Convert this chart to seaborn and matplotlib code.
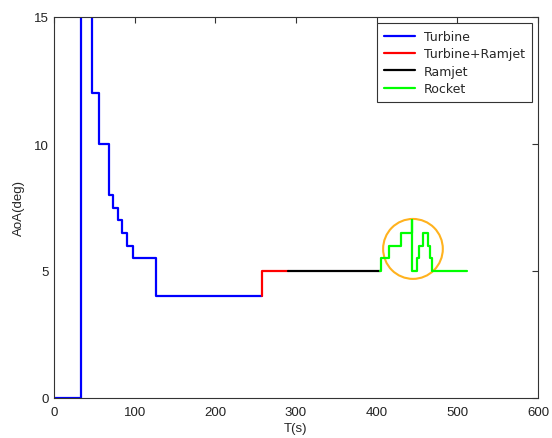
import matplotlib
matplotlib.use("Agg")
import matplotlib.pyplot as plt
from matplotlib.patches import Ellipse
import numpy as np
import pandas as pd
import seaborn as sns

# Step breakpoints (time in s) and AoA values (deg)
turbine_t = [0, 33, 47, 56, 68.5, 73.5, 79.5, 84.5, 90.5, 98, 126, 257.5]
turbine_aoa = [0, 20, 12, 10, 8, 7.5, 7, 6.5, 6, 5.5, 4, 4]

ramjet_mix_t = [257.5, 257.5, 290]
ramjet_mix_aoa = [4, 5, 5]

ramjet_t = [290, 404]
ramjet_aoa = [5, 5]

rocket_t = [404, 405, 415, 430, 444, 444.4, 449.5, 452.7, 457.6, 463.8, 466, 469, 512]
rocket_aoa = [5, 5.5, 6, 6.5, 7, 5, 5.5, 6, 6.5, 6, 5.5, 5, 5]

phases = ["Turbine", "Turbine+Ramjet", "Ramjet", "Rocket"]
colors = ["#0000ff", "#ff0000", "#000000", "#00ff00"]

# highlighted region
circle_t, circle_aoa = 445, 5.87
circle_w, circle_h = 74, 2.36

frames = []
for name, t, a in zip(phases,
                      [turbine_t, ramjet_mix_t, ramjet_t, rocket_t],
                      [turbine_aoa, ramjet_mix_aoa, ramjet_aoa, rocket_aoa]):
    frames.append(pd.DataFrame({"T": t, "AoA": a, "phase": name}))
df = pd.concat(frames, ignore_index=True)

sns.set_style("white")
plt.rcParams["font.family"] = ["Liberation Sans", "DejaVu Sans"]

fig = plt.figure(figsize=(5.52, 4.39), dpi=100)
ax = fig.add_axes([54 / 552, 1 - 399 / 439, 484 / 552, 381 / 439])

for name, c in zip(phases, colors):
    sub = df[df["phase"] == name]
    sns.lineplot(data=sub, x="T", y="AoA", ax=ax, color=c, label=name,
                 drawstyle="steps-post", sort=False, estimator=None,
                 linewidth=1.6)

ax.add_patch(Ellipse((circle_t, circle_aoa), circle_w, circle_h,
                     fill=False, edgecolor="#ffb21e", linewidth=1.5))

ax.set_xlim(0, 600)
ax.set_ylim(0, 15)
ax.set_xticks(np.arange(0, 601, 100))
ax.set_yticks([0, 5, 10, 15])
ax.set_xlabel("T(s)", fontsize=9.5, labelpad=3)
ax.set_ylabel("AoA(deg)", fontsize=9.5, labelpad=6)
ax.tick_params(direction="in", length=4, width=0.8, labelsize=9.5,
               top=True, right=True, colors="#333333")
ax.tick_params(axis="x", pad=6)
ax.tick_params(axis="y", pad=4)
ax.tick_params(labelcolor="#222222")
for s in ax.spines.values():
    s.set_color("#333333")
    s.set_linewidth(0.8)

leg = ax.legend(loc="upper right", prop={"family": "DejaVu Sans", "size": 9},
                fancybox=False, framealpha=1, edgecolor="#333333",
                borderpad=0.55, handlelength=2.5, handletextpad=0.7,
                labelspacing=0.35, borderaxespad=0.48)
leg.get_frame().set_linewidth(0.8)

fig.savefig("out.png", dpi=100)
